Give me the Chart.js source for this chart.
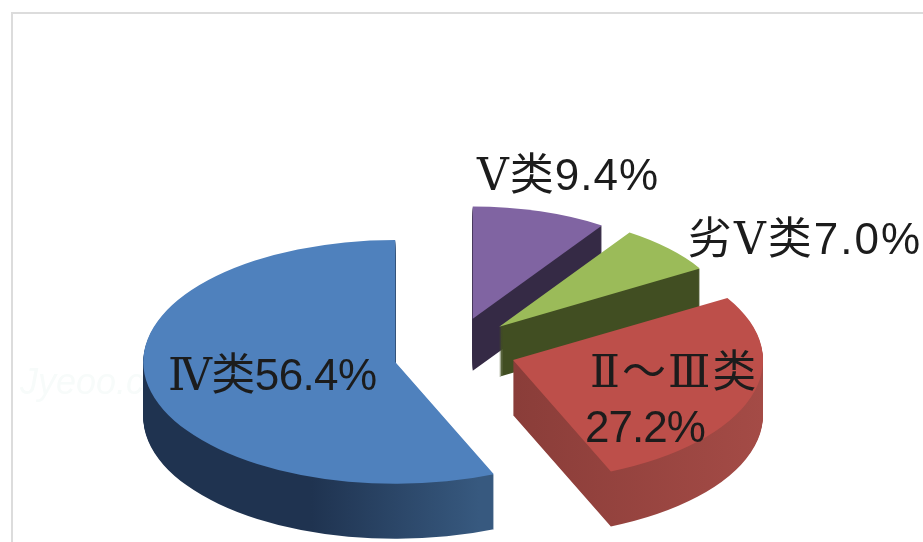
<!DOCTYPE html>
<html>
<head>
<meta charset="utf-8">
<style>
    html, body { margin: 0; padding: 0; background: #fff; overflow: hidden; }
    #frame { position: absolute; left: 11px; top: 12px; width: 940px; height: 560px; border: 2px solid #dcdcdc; }
    #pie { position: absolute; left: 0; top: 0; }
</style>
<script src="https://cdn.jsdelivr.net/npm/chart.js@4"></script>
</head>
<body>
<div id="frame"></div>
<canvas id="pie" width="923" height="542"></canvas>
<script>
    var categories = ['Ⅴ类', '劣Ⅴ类', 'Ⅱ～Ⅲ类', 'Ⅳ类'];
    var percents = [9.4, 7.0, 27.2, 56.4];
    var topColors = ['#8064a2', '#9bbb59', '#bd4f4a', '#4f81bd'];

    // pie centre on screen and how flat the tilted disc looks
    var centerX = 455, centerY = 347, tilt = 0.484;

    // per slice look: radius, how far it is pulled out, extra drop, wall height, wall colours
    var sliceRadius = [232, 234, 250, 252];
    var slicePull = [61, 61, 61, 61];
    var sliceDrop = [0, 0, 4, 9];
    var wallHeight = [52, 50, 55, 55];
    var wallStops = [
        ['#352a45', '#352a45'],
        ['#414e22', '#414e22'],
        ['#853c37', '#8a3d39', '#a44b46'],
        ['#1f3350', '#1f3350', '#37597f', '#37597f']
    ];

    var labelFont = '44px "Liberation Sans", "DejaVu Serif", "Noto Sans CJK SC"';
    var labelSpots = [[[477, 190]], [[688, 254]], [[590, 387], [585, 442]], [[168, 390]]];
    var labelSpacing = [['1px'], ['2px'], ['2px', '-1px'], ['-0.6px']];

    function labelLines(i) {
        var pct = percents[i].toFixed(1) + '%';
        return i === 2 ? [categories[i], pct] : [categories[i] + pct];
    }

    // draws the arc through its own draw(), with another fill and radius
    function drawArcCopy(ctx, arc, radius, fill) {
        var copy = Object.create(Object.getPrototypeOf(arc));
        Object.assign(copy, arc);
        copy.outerRadius = radius;
        copy.options = Object.assign({}, arc.options, { backgroundColor: fill });
        copy.draw(ctx);
    }

    var tiltedPie = {
        id: 'tiltedPie',
        beforeDatasetDraw: function (chart, args) {
            var ctx = chart.ctx;
            args.meta.data.forEach(function (arc, i) {
                var mid = (arc.startAngle + arc.endAngle) / 2;
                var r = sliceRadius[i];

                ctx.save();
                ctx.translate(centerX, centerY + sliceDrop[i]);
                ctx.scale(1, tilt);
                ctx.translate(Math.cos(mid) * slicePull[i] - arc.x, Math.sin(mid) * slicePull[i] - arc.y);

                var grad = ctx.createLinearGradient(arc.x - r, 0, arc.x + r, 0);
                var stops = wallStops[i];
                stops.forEach(function (c, n) {
                    grad.addColorStop(n / (stops.length - 1), c);
                });

                // wall: stacked copies from the bottom up
                for (var d = wallHeight[i]; d > 0; d--) {
                    ctx.save();
                    ctx.translate(0, d / tilt);
                    drawArcCopy(ctx, arc, r, grad);
                    ctx.restore();
                }
                drawArcCopy(ctx, arc, r, arc.options.backgroundColor);
                ctx.restore();
            });
            return false;
        },
        beforeDatasetsDraw: function (chart) {
            var ctx = chart.ctx;
            ctx.save();
            ctx.fillStyle = '#f7fbfa';
            ctx.font = 'italic 36px "Liberation Sans"';
            ctx.fillText('Jyeoo.com', 20, 394);
            ctx.restore();
        },
        afterDatasetsDraw: function (chart) {
            var ctx = chart.ctx;
            ctx.save();
            ctx.fillStyle = '#1c1c1c';
            ctx.font = labelFont;
            ctx.textBaseline = 'alphabetic';
            categories.forEach(function (c, i) {
                labelLines(i).forEach(function (line, n) {
                    ctx.letterSpacing = labelSpacing[i][n];
                    ctx.fillText(line, labelSpots[i][n][0], labelSpots[i][n][1]);
                });
            });
            ctx.restore();
        }
    };

    new Chart(document.getElementById('pie'), {
        type: 'pie',
        data: {
            labels: categories,
            datasets: [{
                data: percents,
                backgroundColor: topColors,
                borderWidth: 0,
                radius: 252
            }]
        },
        options: {
            responsive: false,
            animation: false,
            events: [],
            plugins: {
                legend: { display: false },
                tooltip: { enabled: false }
            }
        },
        plugins: [tiltedPie]
    });
</script>
</body>
</html>
